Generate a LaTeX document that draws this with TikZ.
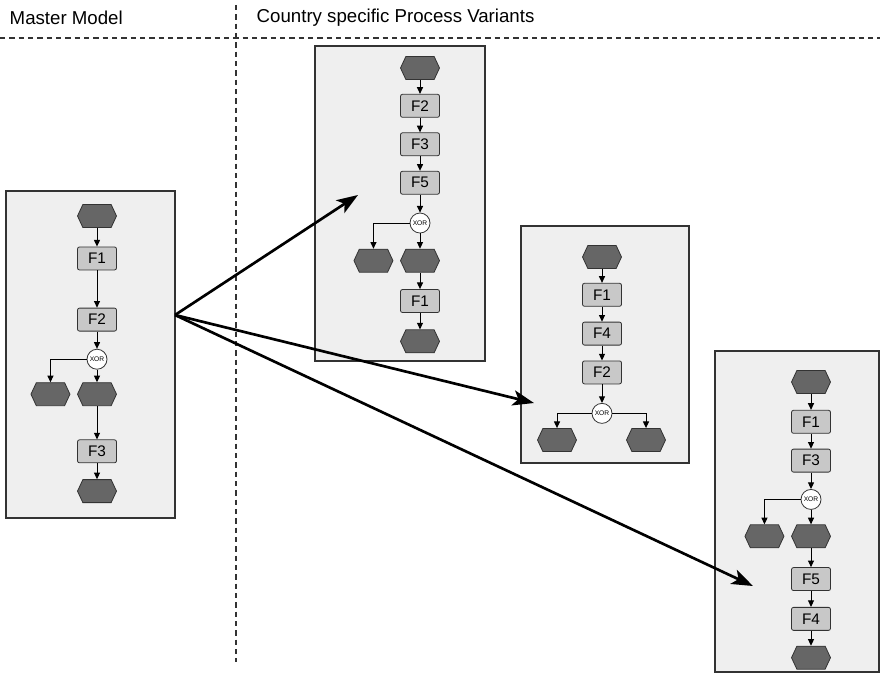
\documentclass[tikz,border=0pt]{standalone}
\usepackage{fontspec}
\setmainfont{Liberation Sans}
\usetikzlibrary{shapes.symbols,arrows.meta,positioning,fit,backgrounds}
\definecolor{vmline}{HTML}{333333}
\definecolor{vmpanel}{HTML}{EFEFEF}
\definecolor{vmfunc}{HTML}{C8C8C8}
\definecolor{vmevent}{HTML}{666666}

\begin{document}
\begin{tikzpicture}[
  x=0.75pt,y=-0.75pt,
  node distance=11pt,
  panel/.style={draw=vmline,fill=vmpanel,line width=0.8pt,inner sep=0pt},
  fn/.style={draw=vmline,fill=vmfunc,rounded corners=1.5pt,minimum width=29.25pt,
             minimum height=17.25pt,inner sep=0pt,line width=0.6pt,
             font=\fontsize{11.5}{11.5}\selectfont},
  ev/.style={signal,signal to=east and west,signal pointer angle=130,draw=vmline,
             fill=vmevent,minimum width=29.25pt,minimum height=17.25pt,inner sep=0pt,
             line width=0.6pt},
  xor/.style={circle,draw=vmline,fill=white,minimum size=15pt,inner sep=0pt,
              line width=0.6pt,font=\fontsize{5}{5}\selectfont},
  flow/.style={-{Triangle[length=5pt,width=4.5pt]},draw=black,line width=0.75pt},
  bigarr/.style={-{Stealth[length=16pt,width=11.5pt,inset=4pt]},line width=2pt},
  sep/.style={dash pattern=on 4pt off 3pt,line width=0.9pt,draw=vmline},
  hdr/.style={anchor=west,font=\fontsize{14}{14}\selectfont}
]
\useasboundingbox (0,0) rectangle (880,674);

% headers and separators
\node[hdr] (hm) at (5,18) {Master Model};
\node[hdr] (hv) at (252,18) {Country specific Process Variants};
\draw[sep] (0,38) -- (880,38);
\draw[sep] (236,5) -- (236,662);

% master model
\node[ev] (m0) at (97,216) {};
\node[fn,below=14pt of m0] (m1) {F1};
\node[fn,below=28pt of m1] (m2) {F2};
\node[xor,below=13pt of m2] (mx) {XOR};
\node[ev,below=9.5pt of mx] (m3) {};
\node[ev,left=5pt of m3] (m4) {};
\node[fn,below=25pt of m3] (m5) {F3};
\node[ev,below=12pt of m5] (m6) {};
\begin{scope}[on background layer]
  \node[panel,fit={(6,191)(175,518)}] (P0) {};
\end{scope}
\draw[flow] (m0) -- (m1);
\draw[flow] (m1) -- (m2);
\draw[flow] (m2) -- (mx);
\draw[flow] (mx) -- (m3);
\draw[flow] (mx) -| (m4);
\draw[flow] (m3) -- (m5);
\draw[flow] (m5) -- (m6);

% variant 1
\node[ev] (a0) at (420,68) {};
\node[fn,below=10.5pt of a0] (a1) {F2};
\node[fn,below=11pt of a1] (a2) {F3};
\node[fn,below=11pt of a2] (a3) {F5};
\node[xor,below=13.5pt of a3] (ax) {XOR};
\node[ev,below=11.5pt of ax] (a4) {};
\node[ev,left=5pt of a4] (a5) {};
\node[fn,below=12.4pt of a4] (a6) {F1};
\node[ev,below=12.4pt of a6] (a7) {};
\begin{scope}[on background layer]
  \node[panel,fit={(315,46)(485,361)}] (P1) {};
\end{scope}
\draw[flow] (a0) -- (a1);
\draw[flow] (a1) -- (a2);
\draw[flow] (a2) -- (a3);
\draw[flow] (a3) -- (ax);
\draw[flow] (ax) -- (a4);
\draw[flow] (ax) -| (a5);
\draw[flow] (a4) -- (a6);
\draw[flow] (a6) -- (a7);

% variant 2
\node[ev] (b0) at (602,257) {};
\node[fn,below=10.5pt of b0] (b1) {F1};
\node[fn,below=11.25pt of b1] (b2) {F4};
\node[fn,below=11.25pt of b2] (b3) {F2};
\node[xor,below=14pt of b3] (bx) {XOR};
\node[ev] (b4) at (557,440) {};
\node[ev] (b5) at (646,440) {};
\begin{scope}[on background layer]
  \node[panel,fit={(521,226)(689,463)}] (P2) {};
\end{scope}
\draw[flow] (b0) -- (b1);
\draw[flow] (b1) -- (b2);
\draw[flow] (b2) -- (b3);
\draw[flow] (b3) -- (bx);
\draw[flow] (bx) -| (b4);
\draw[flow] (bx) -| (b5);

% variant 3
\node[ev] (c0) at (811,382) {};
\node[fn,below=12pt of c0] (c1) {F1};
\node[fn,below=11.25pt of c1] (c2) {F3};
\node[xor,below=12.4pt of c2] (cx) {XOR};
\node[ev,below=10.9pt of cx] (c3) {};
\node[ev,left=5pt of c3] (c4) {};
\node[fn,below=14.25pt of c3] (c5) {F5};
\node[fn,below=12pt of c5] (c6) {F4};
\node[ev,below=11.25pt of c6] (c7) {};
\begin{scope}[on background layer]
  \node[panel,fit={(715,351)(879,672)}] (P3) {};
\end{scope}
\draw[flow] (c0) -- (c1);
\draw[flow] (c1) -- (c2);
\draw[flow] (c2) -- (cx);
\draw[flow] (cx) -- (c3);
\draw[flow] (cx) -| (c4);
\draw[flow] (c3) -- (c5);
\draw[flow] (c5) -- (c6);
\draw[flow] (c6) -- (c7);

% derivation arrows
\coordinate (src) at (175,315);
\coordinate (t1) at (358,195);
\coordinate (t2) at (534,403);
\coordinate (t3) at (753,586);
\draw[bigarr] (src) -- (t1);
\draw[bigarr] (src) -- (t2);
\draw[bigarr] (src) -- (t3);
\end{tikzpicture}
\end{document}
